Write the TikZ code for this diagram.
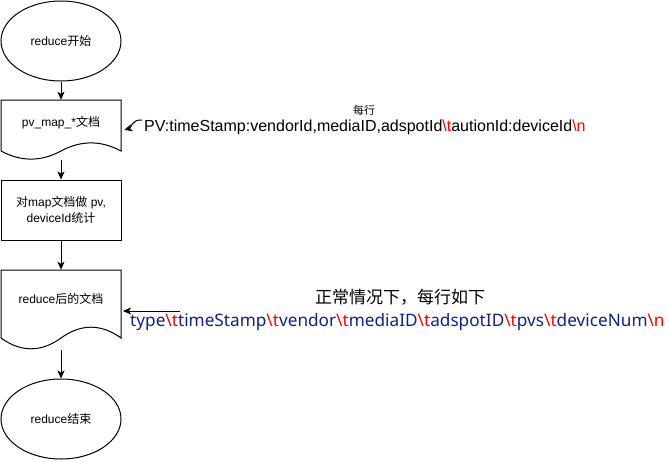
\documentclass[tikz,border=0pt]{standalone}
\usepackage{fontspec}
\setmainfont{Liberation Sans}
\newfontfamily\cjk{Noto Sans CJK SC}
\newfontfamily\notos{Noto Sans}
\usetikzlibrary{shapes.geometric,arrows.meta}
\definecolor{navyblue}{RGB}{18,32,140}
\newcommand{\redT}{\textcolor{red}{\textbackslash t}}
\newcommand{\redN}{\textcolor{red}{\textbackslash n}}
\begin{document}
\begin{tikzpicture}[x=1pt,y=-1pt,
  shapeline/.style={draw=black,line width=1pt},
  ellnode/.style={ellipse,shapeline,minimum width=120pt,minimum height=80pt,inner sep=0pt,font=\fontsize{12}{15}\selectfont},
  boxnode/.style={rectangle,shapeline,minimum width=120pt,minimum height=60pt,inner sep=0pt,align=center,font=\fontsize{12}{16}\selectfont},
  docbox/.style={rectangle,draw=none,inner sep=0pt},
  doctext/.style={inner sep=0pt,font=\fontsize{12}{15}\selectfont},
  arr/.style={line width=1pt,-{Stealth[length=8pt,width=7pt,inset=2pt]}},
  plain/.style={line width=1pt}
]
\useasboundingbox (0,0) rectangle (669,461);

% start ellipse
\node[ellnode] (e1) at (61,41) {reduce{\cjk 开始}};

% document 1
\node[docbox,minimum width=120pt,minimum height=60pt] (d1) at (61,130) {};
\draw[shapeline] (1,100) -- (121,100) -- (121,151)
  .. controls (101,140.2) and (81,140.2) .. (61,151)
  .. controls (41,161.8) and (21,161.8) .. (1,151) -- cycle;
\node[doctext] (d1t) at (61,123) {pv\_map\_*{\cjk 文档}};

% box
\node[boxnode] (r1) at (61,210) {{\cjk 对}map{\cjk 文档做} pv,\\deviceId{\cjk 统计}};

% document 2
\node[docbox,minimum width=120pt,minimum height=80pt] (d2) at (61,310) {};
\draw[shapeline] (1,270) -- (121,270) -- (121,338)
  .. controls (101,323.6) and (81,323.6) .. (61,338)
  .. controls (41,352.4) and (21,352.4) .. (1,338) -- cycle;
\node[doctext] (d2t) at (61,299) {reduce{\cjk 后的文档}};

% end ellipse
\node[ellnode] (e2) at (61,419) {reduce{\cjk 结束}};

% flow arrows
\draw[arr] (e1.south) -- (d1.north);
\draw[arr] (d1.south) -- (r1.north);
\draw[arr] (r1.south) -- (d2.north);
\draw[arr] (d2.south) -- (e2.north);

% label 1
\node[inner sep=0pt,font=\cjk\fontsize{11}{13}\selectfont] (l1a) at (364,110) {每行};
\node[inner sep=0pt,anchor=west,font=\fontsize{16}{19}\selectfont] (l1b) at (144,127)
  {PV:timeStamp:vendorId,mediaID,adspotId\redT autionId:deviceId\redN};
\coordinate (c1) at (142,120);
\draw[arr] (c1) .. controls (132,119) and (131,128) .. ([xshift=3pt]d1.east);

% label 2
\node[inner sep=0pt,font=\cjk\fontsize{17}{20}\selectfont] (l2a) at (400,297) {正常情况下，每行如下};
\node[inner sep=0pt,anchor=west,text=navyblue,font=\notos\fontsize{17.2}{20}\selectfont] (l2b) at (130,322)
  {type\redT timeStamp\redT vendor\redT mediaID\redT adspotID\redT pvs\redT deviceNum\redN};
\coordinate (c2) at (180,311);
\draw[arr] (c2) -- (123,311);
\end{tikzpicture}
\end{document}
